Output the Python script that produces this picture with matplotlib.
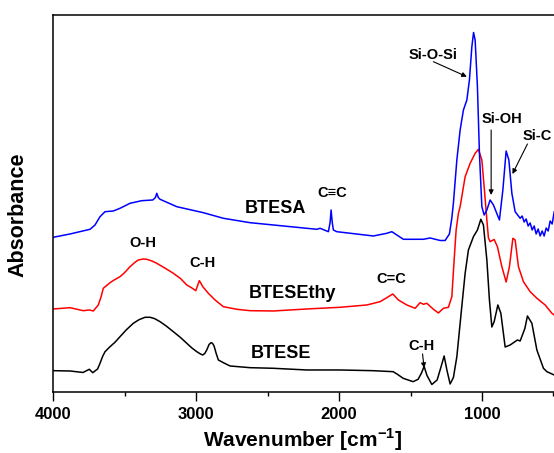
import matplotlib
matplotlib.use("Agg")
import matplotlib.pyplot as plt
from matplotlib.ticker import FixedLocator

plt.rcParams['font.family'] = ['Liberation Sans', 'DejaVu Sans']
plt.rcParams['font.weight'] = 'bold'
plt.rcParams['mathtext.fontset'] = 'custom'
plt.rcParams['mathtext.rm'] = 'Liberation Sans:bold'
plt.rcParams['mathtext.bf'] = 'Liberation Sans:bold'

# BTESE (black)
btese_wn = [4000, 3883, 3792, 3748, 3724, 3690, 3673, 3655, 3638, 3603, 3570, 3533, 3490, 3440,
            3400, 3358, 3323, 3290, 3253, 3210, 3160, 3110, 3066, 3030, 2996, 2970, 2954, 2940,
            2926, 2910, 2896, 2886, 2875, 2860, 2845, 2810, 2763, 2623, 2462, 2226, 1993, 1762,
            1622, 1590, 1552, 1482, 1447, 1425, 1405, 1385, 1351, 1314, 1290, 1265, 1245, 1223,
            1200, 1176, 1141, 1118, 1095, 1060, 1032, 1008, 990, 966, 948, 931, 915, 889, 868,
            838, 803, 752, 733, 700, 682, 651, 616, 570, 546, 495]
btese_abs = [0.218, 0.215, 0.20, 0.232, 0.198, 0.235, 0.292, 0.36, 0.408, 0.458, 0.50, 0.558,
             0.625, 0.692, 0.728, 0.752, 0.752, 0.738, 0.708, 0.665, 0.608, 0.55, 0.492, 0.445,
             0.408, 0.385, 0.375, 0.39, 0.425, 0.48, 0.498, 0.492, 0.465, 0.39, 0.325, 0.298,
             0.265, 0.248, 0.242, 0.225, 0.225, 0.218, 0.208, 0.18, 0.142, 0.108, 0.132, 0.19,
             0.26, 0.17, 0.08, 0.125, 0.24, 0.365, 0.22, 0.085, 0.15, 0.358, 0.865, 1.192, 1.425,
             1.558, 1.625, 1.732, 1.675, 1.325, 0.925, 0.655, 0.708, 0.875, 0.792, 0.455, 0.475,
             0.525, 0.515, 0.64, 0.765, 0.692, 0.425, 0.242, 0.208, 0.175]

# BTESEthy (red)
ethy_wn = [4000, 3883, 3790, 3748, 3720, 3685, 3665, 3650, 3603, 3580, 3533, 3500, 3463, 3430,
           3405, 3370, 3346, 3310, 3276, 3220, 3160, 3110, 3066, 3030, 3003, 2990, 2978, 2966,
           2954, 2915, 2868, 2810, 2716, 2623, 2460, 2226, 1993, 1806, 1713, 1655, 1624, 1585,
           1526, 1468, 1433, 1410, 1386, 1340, 1305, 1270, 1235, 1211, 1195, 1181, 1165, 1153,
           1118, 1083, 1048, 1025, 1001, 985, 966, 955, 943, 915, 892, 861, 831, 808, 784, 768,
           745, 710, 663, 616, 558, 511, 495]
ethy_abs = [0.835, 0.848, 0.818, 0.825, 0.815, 0.875, 0.96, 1.042, 1.098, 1.12, 1.158, 1.20,
            1.258, 1.30, 1.325, 1.335, 1.332, 1.315, 1.292, 1.245, 1.192, 1.14, 1.075, 1.045,
            1.018, 1.07, 1.118, 1.09, 1.058, 0.992, 0.925, 0.858, 0.832, 0.818, 0.815, 0.835,
            0.852, 0.875, 0.908, 0.958, 0.985, 0.925, 0.875, 0.842, 0.898, 0.882, 0.892, 0.832,
            0.795, 0.842, 0.852, 0.958, 1.325, 1.625, 1.792, 1.858, 2.158, 2.292, 2.392, 2.432,
            2.325, 2.058, 1.725, 1.545, 1.508, 1.53, 1.458, 1.258, 1.105, 1.258, 1.542, 1.525,
            1.258, 1.108, 1.008, 0.942, 0.875, 0.792, 0.775]

# BTESA (blue)
btesa_wn = [4000, 3883, 3743, 3708, 3673, 3638, 3580, 3533, 3463, 3381, 3304, 3285, 3276, 3265,
            3253, 3136, 2950, 2810, 2623, 2460, 2156, 2133, 2075, 2063, 2056, 2048, 2040, 2016,
            1760, 1666, 1631, 1596, 1550, 1410, 1363, 1293, 1258, 1228, 1211, 1200, 1176, 1153,
            1130, 1106, 1088, 1071, 1059, 1048, 1032, 1018, 1001, 985, 966, 943, 920, 878, 854,
            831, 812, 791, 768, 733, 719, 705, 691, 677, 663, 649, 635, 621, 607, 593, 579, 565,
            551, 537, 523, 509, 495]
btesa_abs = [1.552, 1.585, 1.632, 1.675, 1.758, 1.808, 1.815, 1.842, 1.892, 1.918, 1.925, 1.95,
             1.992, 1.95, 1.932, 1.858, 1.798, 1.742, 1.698, 1.675, 1.632, 1.642, 1.608, 1.70,
             1.825, 1.70, 1.625, 1.608, 1.565, 1.592, 1.608, 1.575, 1.532, 1.532, 1.545, 1.52,
             1.52, 1.585, 1.745, 1.895, 2.325, 2.625, 2.825, 2.925, 3.125, 3.458, 3.60, 3.525,
             3.058, 2.392, 1.858, 1.775, 1.825, 1.925, 1.875, 1.725, 2.025, 2.415, 2.325, 1.992,
             1.808, 1.742, 1.765, 1.705, 1.735, 1.665, 1.695, 1.625, 1.665, 1.585, 1.635, 1.565,
             1.615, 1.565, 1.645, 1.615, 1.715, 1.685, 1.805]

fig = plt.figure(figsize=(5.54, 4.53), dpi=100)
ax = fig.add_axes([0.0962, 0.1336, 0.9286, 0.8333])

ax.plot(btese_wn, btese_abs, color='black', lw=1.1)
ax.plot(ethy_wn, ethy_abs, color='#ff0000', lw=1.1)
ax.plot(btesa_wn, btesa_abs, color='#0000ff', lw=1.1)

ax.set_xlim(4000, 400)
ax.set_ylim(0, 3.775)
ax.xaxis.set_major_locator(FixedLocator([4000, 3000, 2000, 1000]))
ax.xaxis.set_minor_locator(FixedLocator([3500, 2500, 1500, 500]))
ax.set_yticks([])
ax.tick_params(axis='x', which='major', length=6.5, width=1.0, direction='out',
               labelsize=12, pad=4)
ax.tick_params(axis='x', which='minor', length=3, width=1.0, direction='out')
for lab in ax.get_xticklabels():
    lab.set_fontweight('bold')
for s in ax.spines.values():
    s.set_linewidth(1.1)

ax.set_xlabel('Wavenumber [cm$^{-1}$]', fontsize=15, fontweight='bold')
ax.xaxis.set_label_coords(0.4854, -0.09)
ax.set_ylabel('Absorbance', fontsize=15.5, fontweight='bold')
ax.yaxis.set_label_coords(-0.049, 0.471)

big = dict(fontsize=13, fontweight='bold', ha='center', va='baseline')
small = dict(fontsize=10.5, fontweight='bold', ha='center', va='baseline')

ax.text(2442, 1.798, 'BTESA', **big)
ax.text(2325, 0.942, 'BTESEthy', **big)
ax.text(2410, 0.342, 'BTESE', **big)

ax.text(2046, 1.958, 'C\u2261C', **small)
ax.text(3374, 1.452, 'O-H', **small)
ax.text(2956, 1.258, 'C-H', **small)
ax.text(1637, 1.092, 'C=C', **small)
ax.text(1421, 0.425, 'C-H', **small)
ax.text(1346, 3.332, 'Si-O-Si', **small)
ax.text(858, 2.698, 'Si-OH', **small)
ax.text(616, 2.525, 'Si-C', **small)

ap = dict(arrowstyle='-|>', lw=0.8, color='black', mutation_scale=7, shrinkA=0, shrinkB=0)
ax.annotate('', xy=(1106, 3.158), xytext=(1340, 3.308), arrowprops=ap)
ax.annotate('', xy=(936, 1.975), xytext=(936, 2.625), arrowprops=ap)
ax.annotate('', xy=(787, 2.185), xytext=(682, 2.485), arrowprops=ap)
ax.annotate('', xy=(1405, 0.245), xytext=(1416, 0.385), arrowprops=ap)

fig.savefig('out.png', dpi=100)
